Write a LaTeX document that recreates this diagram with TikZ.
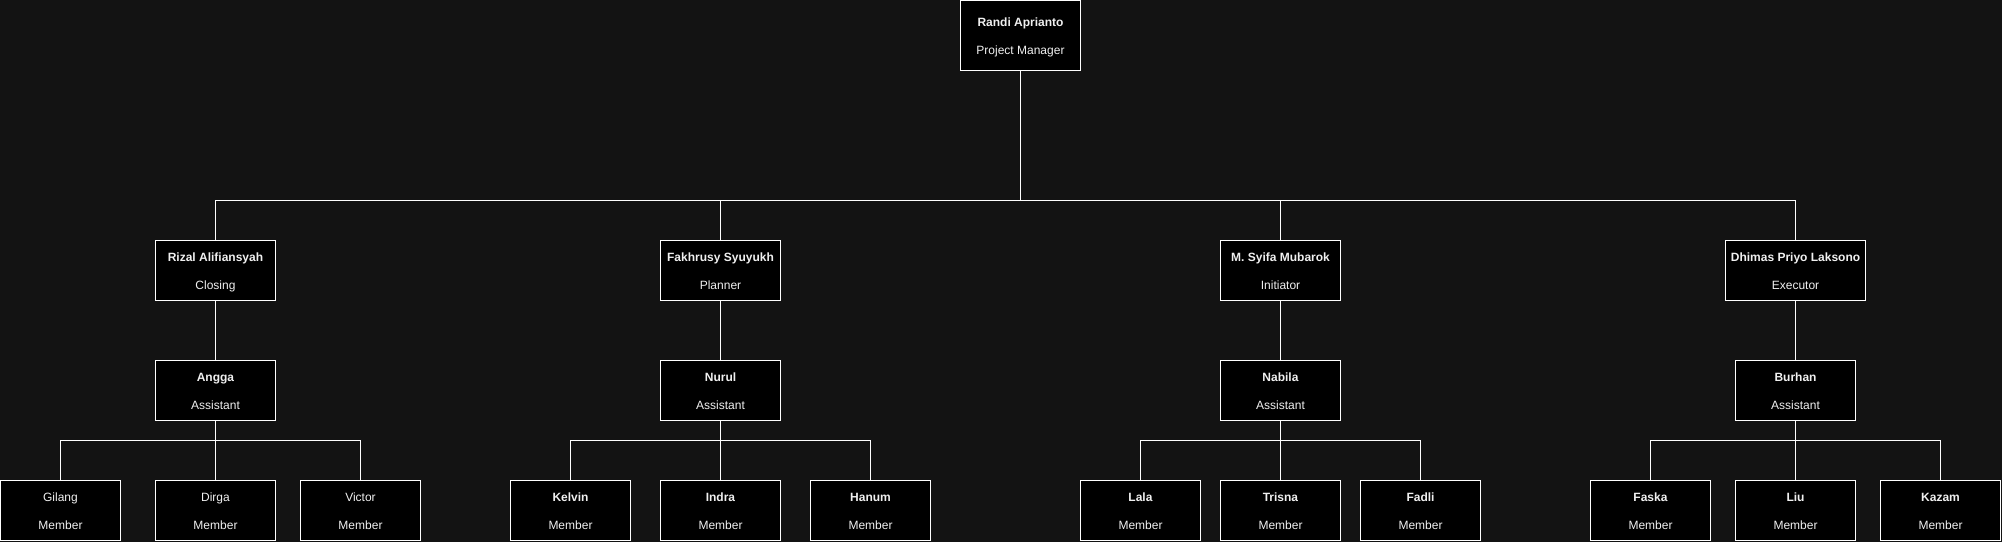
\documentclass[tikz,border=0pt]{standalone}
\usepackage{fontspec}
\setmainfont{Liberation Sans}
\definecolor{bg}{HTML}{131313}
\definecolor{txt}{HTML}{F0F0F0}
\begin{document}
\begin{tikzpicture}[x=1pt,y=-1pt,
  box/.style={draw=white,fill=black,line width=1pt,minimum width=120pt,minimum height=60pt,
    inner sep=0pt,align=center,text=txt,font=\fontsize{12}{28.7}\selectfont},
  wide/.style={minimum width=140pt},
  tall/.style={minimum height=70pt},
  wire/.style={draw=white,line width=1pt}]
\fill[bg] (0,0) rectangle (2002,542);
\useasboundingbox (0,0) rectangle (2002,542);
\newcommand{\tp}{\rule{0pt}{12.6pt}}
\newcommand{\nm}[1]{\tp\textbf{#1}}
\newcommand{\rl}[1]{#1\vphantom{gj}}
% coordinates for buses
\coordinate (busTop) at (0,200.5);
\coordinate (busA) at (0,440.5);
% top
\node[box,tall] (pm) at (1020.5,35.5) {\nm{Randi Aprianto}\\\rl{Project Manager}};
% level 2
\node[box] (rizal) at (215.5,270.5) {\nm{Rizal Alifiansyah}\\\rl{Closing}};
\node[box] (fakh) at (720.5,270.5) {\nm{Fakhrusy Syuyukh}\\\rl{Planner}};
\node[box] (syifa) at (1280.5,270.5) {\nm{M. Syifa Mubarok}\\\rl{Initiator}};
\node[box,wide] (dhimas) at (1795.5,270.5) {\nm{Dhimas Priyo Laksono}\\\rl{Executor}};
% level 3
\node[box] (angga) at (215.5,390.5) {\nm{Angga}\\\rl{Assistant}};
\node[box] (nurul) at (720.5,390.5) {\nm{Nurul}\\\rl{Assistant}};
\node[box] (nabila) at (1280.5,390.5) {\nm{Nabila}\\\rl{Assistant}};
\node[box] (burhan) at (1795.5,390.5) {\nm{Burhan}\\\rl{Assistant}};
% level 4
\node[box] (gilang) at (60.5,510.5) {\tp Gilang\\\rl{Member}};
\node[box] (dirga) at (215.5,510.5) {\tp Dirga\\\rl{Member}};
\node[box] (victor) at (360.5,510.5) {\tp Victor\\\rl{Member}};
\node[box] (kelvin) at (570.5,510.5) {\nm{Kelvin}\\\rl{Member}};
\node[box] (indra) at (720.5,510.5) {\nm{Indra}\\\rl{Member}};
\node[box] (hanum) at (870.5,510.5) {\nm{Hanum}\\\rl{Member}};
\node[box] (lala) at (1140.5,510.5) {\nm{Lala}\\\rl{Member}};
\node[box] (trisna) at (1280.5,510.5) {\nm{Trisna}\\\rl{Member}};
\node[box] (fadli) at (1420.5,510.5) {\nm{Fadli}\\\rl{Member}};
\node[box] (faska) at (1650.5,510.5) {\nm{Faska}\\\rl{Member}};
\node[box] (liu) at (1795.5,510.5) {\nm{Liu}\\\rl{Member}};
\node[box] (kazam) at (1940.5,510.5) {\nm{Kazam}\\\rl{Member}};
% connectors top -> level 2
\foreach \c in {rizal,fakh,syifa,dhimas}
  \draw[wire] (pm.south) -- (pm.south |- busTop) -| (\c.north);
% level 2 -> level 3
\draw[wire] (rizal.south) -- (angga.north);
\draw[wire] (fakh.south) -- (nurul.north);
\draw[wire] (syifa.south) -- (nabila.north);
\draw[wire] (dhimas.south) -- (burhan.north);
% level 3 -> level 4
\foreach \p/\c in {angga/gilang,angga/dirga,angga/victor,
                   nurul/kelvin,nurul/indra,nurul/hanum,
                   nabila/lala,nabila/trisna,nabila/fadli,
                   burhan/faska,burhan/liu,burhan/kazam}
  \draw[wire] (\p.south) -- (\p.south |- busA) -| (\c.north);
\end{tikzpicture}
\end{document}
